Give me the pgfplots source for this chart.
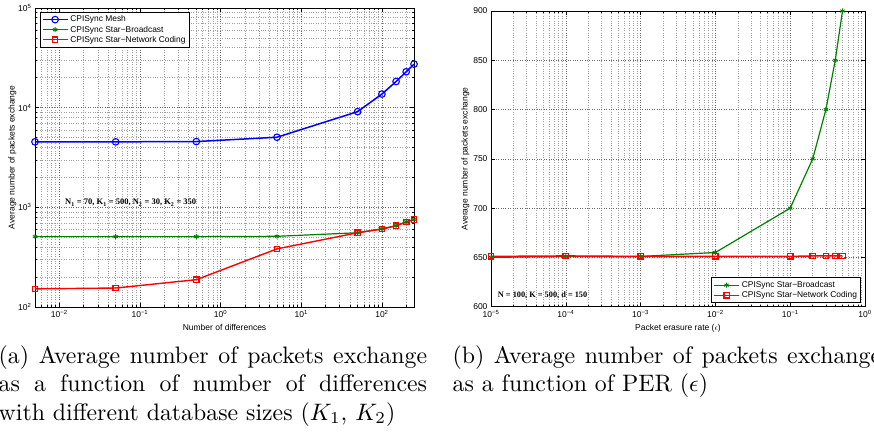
\documentclass[border=0pt]{standalone}
\usepackage{fontspec}
\usepackage{graphicx}
\usepackage{pgfplots}
\pgfplotsset{compat=1.18}
\newfontfamily\hv{Liberation Sans}
\newfontfamily\tm{Liberation Serif}
\definecolor{mgreen}{rgb}{0,0.5,0}
\definecolor{mblue}{rgb}{0,0,1}
\definecolor{mred}{rgb}{1,0,0}

\pgfplotstableread{
x      mesh   bc    nc
0.005  4540   508   152
0.05   4540   508   155
0.5    4570   508   188
5      5050   512   383
50     9120   556   556
100    13700  610   605
150    18300  655   652
200    22900  715   712
250    27350  755   755
}\tableA

\pgfplotstableread{
x       bc    nc
0.00001 650   651
0.0001  651   651.5
0.001   651   651
0.01    655   651
0.1     700   651
0.2     750   651.5
0.3     800   651.5
0.4     850   651.5
0.5     900   651.5
}\tableB

\newcommand\captxt[1]{\scalebox{2.38}{\fontsize{10}{12}\selectfont #1}}

\begin{document}
\begin{tikzpicture}[x=1pt,y=1pt]
\pgfplotsset{
  every axis/.append style={
    scale only axis, anchor=south west,
    axis line style={line width=0.9pt},
    tick align=inside,
    major tick length=4pt, minor tick length=2pt,
    every tick/.style={black, line width=0.5pt},
    tick label style={font=\hv\fontsize{8.5}{10}\selectfont},
    label style={font=\hv\fontsize{8.5}{10}\selectfont},
    major grid style={dotted, black!60, line width=0.5pt},
    minor grid style={dotted, black!38, line width=0.5pt},
    legend cell align=left,
    legend style={font=\hv\fontsize{8.4}{10}\selectfont, draw=black, line width=0.9pt, inner sep=1.5pt, row sep=-1.5pt},
    legend image code/.code={\draw[mark repeat=2,mark phase=2,##1] plot coordinates {(0pt,0pt) (12.5pt,0pt) (25pt,0pt)};},
  },
}
% ---------------- left axis ----------------
\begin{axis}[
  at={(35pt,124pt)}, width=379pt, height=299pt,
  xmode=log, ymode=log,
  xmin=0.005, xmax=250, ymin=100, ymax=100000,
  xtick={0.01,0.1,1,10,100},
  xticklabels={10\textsuperscript{−2},10\textsuperscript{−1},10\textsuperscript{0},10\textsuperscript{1},10\textsuperscript{2}},
  minor xtick={0.005,0.006,0.007,0.008,0.009,0.02,0.03,0.04,0.05,0.06,0.07,0.08,0.09,0.2,0.3,0.4,0.5,0.6,0.7,0.8,0.9,2,3,4,5,6,7,8,9,20,30,40,50,60,70,80,90,200},
  ytick={100,1000,10000,100000},
  yticklabels={10\textsuperscript{2},10\textsuperscript{3},10\textsuperscript{4},10\textsuperscript{5}},
  minor ytick={200,300,400,500,600,700,800,900,2000,3000,4000,5000,6000,7000,8000,9000,20000,30000,40000,50000,60000,70000,80000,90000},
  xmajorgrids, xminorgrids, ymajorgrids, yminorgrids,
  xlabel={Number of differences},
  ylabel={Average number of packets exchange},
  ylabel shift=-5pt,
  legend style={at={(0.013,0.987)}, anchor=north west},
]
\addplot[mblue, line width=1.5pt, mark=o, mark size=3.3pt, mark options={line width=1.1pt}] table[x=x,y=mesh] {\tableA};
\addlegendentry{CPISync Mesh}
\addplot[mgreen, line width=1.2pt, mark=asterisk, mark size=2.5pt, mark options={line width=0.9pt}] table[x=x,y=bc] {\tableA};
\addlegendentry{CPISync Star−Broadcast}
\addplot[mred, line width=1.4pt, mark=square, mark size=2.7pt, mark options={line width=1.3pt}] table[x=x,y=nc] {\tableA};
\addlegendentry{CPISync Star−Network Coding}
\end{axis}
\node[anchor=base west, inner sep=0, font=\tm\bfseries\fontsize{8.5}{10}\selectfont] at (65,226) {N\textsubscript{1} = 70, K\textsubscript{1} = 500, N\textsubscript{2} = 30, K\textsubscript{2} = 350};

% ---------------- right axis ----------------
\begin{axis}[
  at={(491pt,124.3pt)}, width=374pt, height=295.7pt,
  xmode=log,
  xmin=0.00001, xmax=1, ymin=600, ymax=900,
  xtick={0.00001,0.0001,0.001,0.01,0.1,1},
  xticklabels={10\textsuperscript{−5},10\textsuperscript{−4},10\textsuperscript{−3},10\textsuperscript{−2},10\textsuperscript{−1},10\textsuperscript{0}},
  minor xtick={0.00002,0.00003,0.00004,0.00005,0.00006,0.00007,0.00008,0.00009,0.0002,0.0003,0.0004,0.0005,0.0006,0.0007,0.0008,0.0009,0.002,0.003,0.004,0.005,0.006,0.007,0.008,0.009,0.02,0.03,0.04,0.05,0.06,0.07,0.08,0.09,0.2,0.3,0.4,0.5,0.6,0.7,0.8,0.9},
  ytick={600,650,700,750,800,850,900},
  yticklabels={600,650,700,750,800,850,900},
  xmajorgrids, xminorgrids, ymajorgrids,
  xlabel={Packet erasure rate ($\epsilon$)},
  ylabel={Average number of packets exchange},
  ylabel shift=-3pt,
  legend style={at={(0.989,0.0125)}, anchor=south east},
]
\addplot[mgreen, line width=1.2pt, mark=asterisk, mark size=2.5pt, mark options={line width=0.9pt}] table[x=x,y=bc] {\tableB};
\addlegendentry{CPISync Star−Broadcast}
\addplot[mred, line width=1.5pt, mark=square, mark size=2.7pt, mark options={line width=1.3pt}] table[x=x,y=nc] {\tableB};
\addlegendentry{CPISync Star−Network Coding}
\end{axis}
\node[anchor=base west, inner sep=0, font=\tm\bfseries\fontsize{8.3}{10}\selectfont] at (497.7,133.3) {N = 100, K = 500, d = 150};

% ---------------- captions ----------------
\begin{scope}[every node/.style={anchor=base west, inner sep=0}]
\node at (-1.5,68) {\captxt{\makebox[180pt][s]{(a) Average number of packets exchange}}};
\node at (-1.5,39.4) {\captxt{\makebox[180pt][s]{as a function of number of differences}}};
\node at (-1.5,10.8) {\captxt{with different database sizes ($K_1$, $K_2$)}};
\node at (452.5,68) {\captxt{\makebox[180pt][s]{(b) Average number of packets exchange}}};
\node at (452.5,39.4) {\captxt{as a function of PER ($\epsilon$)}};
\end{scope}
\pgfresetboundingbox
\useasboundingbox (0,0) rectangle (874,431);
\end{tikzpicture}
\end{document}
